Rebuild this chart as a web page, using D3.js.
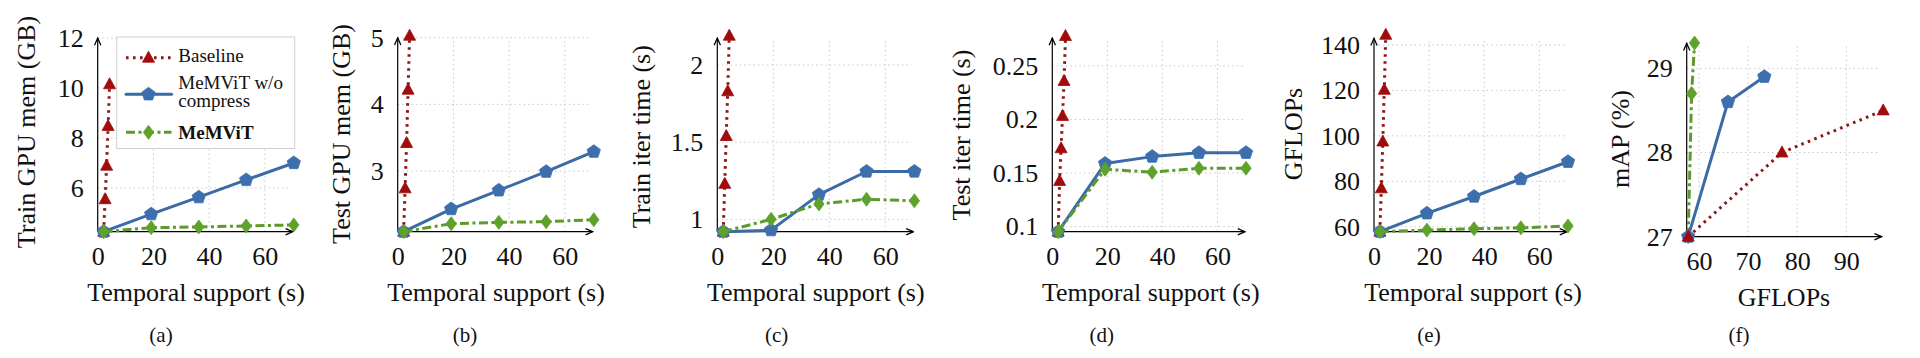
<!DOCTYPE html>
<html>
<head>
<meta charset="utf-8">
<script src="https://cdn.jsdelivr.net/npm/d3@7"></script>
<style>
body { margin: 0; background: #fff; }
svg text { font-family: "Liberation Serif", "Times New Roman", serif; fill: #111; }
</style>
</head>
<body>
<svg id="chart" width="1920" height="358"></svg>
<script>
// temporal support (s) of each run
const tsBaseline = [2.13, 2.67, 3.2, 3.73, 4.27];
const tsBaselineD = [2.13, 2.67, 3.2, 3.73, 4.27, 4.8];
const tsMemvit = [2.13, 19.2, 36.3, 53.3, 70.4];
const tsTicks = [0, 20, 40, 60];

// (a) train GPU memory (GB)
const trainMemBaseline = [4.25, 5.55, 6.89, 8.48, 10.15];
const trainMemNoCompress = [4.25, 4.95, 5.63, 6.32, 7.0];
const trainMemMemvit = [4.25, 4.41, 4.44, 4.48, 4.52];
const trainMemTicks = [6, 8, 10, 12];

// (b) test GPU memory (GB)
const testMemBaseline = [2.09, 2.74, 3.42, 4.22, 5.03];
const testMemNoCompress = [2.09, 2.43, 2.71, 2.99, 3.29];
const testMemMemvit = [2.09, 2.21, 2.23, 2.24, 2.27];
const testMemTicks = [3, 4, 5];

// (c) train iter time (s)
const trainIterBaseline = [0.92, 1.23, 1.54, 1.83, 2.19];
const trainIterNoCompress = [0.92, 0.93, 1.16, 1.31, 1.31];
const trainIterMemvit = [0.92, 1.0, 1.1, 1.13, 1.12];
const trainIterTicks = [1, 1.5, 2];

// (d) test iter time (s)
const testIterBaseline = [0.0953, 0.1427, 0.1732, 0.2034, 0.236, 0.278];
const testIterNoCompress = [0.0953, 0.159, 0.1654, 0.169, 0.169];
const testIterMemvit = [0.0953, 0.1536, 0.1508, 0.1545, 0.1545];
const testIterTicks = [0.1, 0.15, 0.2, 0.25];

// (e) GFLOPs
const flopsBaseline = [57.8, 76.9, 97.5, 120.3, 144.5];
const flopsNoCompress = [57.8, 65.9, 73.3, 81.0, 88.6];
const flopsMemvit = [57.8, 58.5, 59.1, 59.5, 60.3];
const flopsTicks = [60, 80, 100, 120, 140];

// (f) mAP vs GFLOPs
const mapFlopsBaseline = [57.8, 76.9, 97.5];
const mapBaseline = [27.0, 28.0, 28.5];
const mapFlopsNoCompress = [57.8, 65.9, 73.3];
const mapNoCompress = [27.0, 28.6, 28.9];
const mapFlopsMemvit = [57.8, 58.5, 59.1];
const mapMemvit = [27.0, 28.7, 29.3];
const mapTicks = [27, 28, 29];
const mapFlopsTicks = [60, 70, 80, 90];

const seriesNames = ["Baseline", "MeMViT w/o compress", "MeMViT"];

const zip = (xs, ys) => xs.map((x, i) => ({ x: x, y: ys[i] }));

const styles = {
    baseline: { line: "#8a1616", fill: "#a00c0c", dash: "2.6,4.4", width: 3, cap: "butt", marker: "triangle" },
    nocomp:   { line: "#3b6ba5", fill: "#3d6fae", dash: null, width: 3, cap: "round", marker: "pentagon" },
    memvit:   { line: "#5c9a2c", fill: "#5ea12b", dash: "9,3.5,3,3.5", width: 3, cap: "butt", marker: "diamond" }
};

const panels = [
    { x0: 97.7, x1: 293.8, y0: 231.7, y1: 38, arrowTop: 38, xDom: [0, 70.4], yDom: [4.25, 12],
      xTicks: tsTicks, yTicks: trainMemTicks, yLabel: "Train GPU mem (GB)", ylx: 26.7, yly: 132,
      xLabel: "Temporal support (s)", xlx: 196, xly: 292, caption: "(a)", capX: 161, legend: true,
      series: [["baseline", zip(tsBaseline, trainMemBaseline)], ["nocomp", zip(tsMemvit, trainMemNoCompress)], ["memvit", zip(tsMemvit, trainMemMemvit)]] },
    { x0: 397.7, x1: 593.8, y0: 231.7, y1: 35.7, arrowTop: 37.7, xDom: [0, 70.4], yDom: [2.09, 5.03],
      xTicks: tsTicks, yTicks: testMemTicks, yLabel: "Test GPU mem (GB)", ylx: 341.7, yly: 134,
      xLabel: "Temporal support (s)", xlx: 496, xly: 292, caption: "(b)", capX: 465,
      series: [["baseline", zip(tsBaseline, testMemBaseline)], ["nocomp", zip(tsMemvit, testMemNoCompress)], ["memvit", zip(tsMemvit, testMemMemvit)]] },
    { x0: 717.3, x1: 914.4, y0: 231.7, y1: 35.7, arrowTop: 38, xDom: [0, 70.4], yDom: [0.92, 2.19],
      xTicks: tsTicks, yTicks: trainIterTicks, yLabel: "Train iter time (s)", ylx: 641.7, yly: 136.7,
      xLabel: "Temporal support (s)", xlx: 815.8, xly: 292, caption: "(c)", capX: 776.7,
      series: [["baseline", zip(tsBaseline, trainIterBaseline)], ["nocomp", zip(tsMemvit, trainIterNoCompress)], ["memvit", zip(tsMemvit, trainIterMemvit)]] },
    { x0: 1052.3, x1: 1246, y0: 231.7, y1: 36, arrowTop: 38, xDom: [0, 70.4], yDom: [0.0953, 0.278],
      xTicks: tsTicks, yTicks: testIterTicks, yLabel: "Test iter time (s)", ylx: 961.7, yly: 135,
      xLabel: "Temporal support (s)", xlx: 1150.8, xly: 292, caption: "(d)", capX: 1101.7,
      series: [["baseline", zip(tsBaselineD, testIterBaseline)], ["nocomp", zip(tsMemvit, testIterNoCompress)], ["memvit", zip(tsMemvit, testIterMemvit)]] },
    { x0: 1374, x1: 1568, y0: 231.7, y1: 34.8, arrowTop: 38.3, xDom: [0, 70.4], yDom: [57.8, 144.5],
      xTicks: tsTicks, yTicks: flopsTicks, yLabel: "GFLOPs", ylx: 1293.3, yly: 134,
      xLabel: "Temporal support (s)", xlx: 1473, xly: 292, caption: "(e)", capX: 1429,
      series: [["baseline", zip(tsBaseline, flopsBaseline)], ["nocomp", zip(tsMemvit, flopsNoCompress)], ["memvit", zip(tsMemvit, flopsMemvit)]] },
    { x0: 1686.7, x1: 1882.7, y0: 236.7, y1: 42.2, arrowTop: 43.3, xDom: [57.5, 97.4], yDom: [27, 29.31],
      xTicks: mapFlopsTicks, yTicks: mapTicks, yLabel: "mAP (%)", ylx: 1620, yly: 139,
      xLabel: "GFLOPs", xlx: 1784, xly: 297, caption: "(f)", capX: 1739,
      series: [["memvit", zip(mapFlopsMemvit, mapMemvit)], ["nocomp", zip(mapFlopsNoCompress, mapNoCompress)], ["baseline", zip(mapFlopsBaseline, mapBaseline)]] }
];

const markerPath = (type) => {
    if (type === "triangle") {
        return "M0,-6.5L6,4.5L-6,4.5Z";
    }
    if (type === "diamond") {
        return "M0,-7L5.2,0L0,7L-5.2,0Z";
    }
    const r = 7;
    const pts = d3.range(5).map(k => {
        const a = -Math.PI / 2 + k * 2 * Math.PI / 5;
        return [r * Math.cos(a), r * Math.sin(a)];
    });
    return "M" + pts.map(p => p[0].toFixed(2) + "," + p[1].toFixed(2)).join("L") + "Z";
};

const svg = d3.select("#chart");

const defs = svg.append("defs");
defs.append("marker")
    .attr("id", "arrow")
    .attr("viewBox", "0 0 10 10")
    .attr("refX", 9)
    .attr("refY", 5)
    .attr("markerWidth", 9)
    .attr("markerHeight", 9)
    .attr("markerUnits", "userSpaceOnUse")
    .attr("orient", "auto")
    .append("path")
    .attr("d", "M1,1.5L9,5L1,8.5")
    .attr("fill", "none")
    .attr("stroke", "#000")
    .attr("stroke-width", 1.4);

panels.forEach(p => {
    const xScale = d3.scaleLinear().domain(p.xDom).range([p.x0, p.x1]);
    const yScale = d3.scaleLinear().domain(p.yDom).range([p.y0, p.y1]);
    const g = svg.append("g");

    // dotted grid
    const grid = g.append("g")
        .attr("stroke", "#c9c9c9")
        .attr("stroke-width", 1)
        .attr("stroke-dasharray", "1.5,3");
    grid.selectAll(".gx")
        .data(p.xTicks.filter(t => xScale(t) > p.x0 + 2))
        .enter()
        .append("line")
        .attr("x1", d => xScale(d)).attr("x2", d => xScale(d))
        .attr("y1", p.y0).attr("y2", p.arrowTop);
    grid.selectAll(".gy")
        .data(p.yTicks.filter(t => yScale(t) < p.y0 - 2))
        .enter()
        .append("line")
        .attr("x1", p.x0).attr("x2", p.x1 - 3)
        .attr("y1", d => yScale(d)).attr("y2", d => yScale(d));

    // axes with arrow heads
    g.append("line")
        .attr("x1", p.x0).attr("y1", p.y0)
        .attr("x2", p.x0).attr("y2", p.arrowTop)
        .attr("stroke", "#000").attr("stroke-width", 1.2)
        .attr("marker-end", "url(#arrow)");
    g.append("line")
        .attr("x1", p.x0).attr("y1", p.y0)
        .attr("x2", p.x1 - 1).attr("y2", p.y0)
        .attr("stroke", "#000").attr("stroke-width", 1.2)
        .attr("marker-end", "url(#arrow)");

    g.append("g")
        .attr("transform", "translate(" + p.x0 + ",0)")
        .call(d3.axisLeft(yScale).tickValues(p.yTicks).tickSize(0).tickPadding(14).tickFormat(d => String(d)))
        .call(a => {
            a.select(".domain").remove();
            a.selectAll("text").attr("font-size", 26).attr("font-family", null).attr("fill", "#111");
        });
    g.append("g")
        .attr("transform", "translate(0," + p.y0 + ")")
        .call(d3.axisBottom(xScale).tickValues(p.xTicks).tickSize(0).tickPadding(15).tickFormat(d => String(d)))
        .call(a => {
            a.select(".domain").remove();
            a.selectAll("text").attr("font-size", 26).attr("font-family", null).attr("fill", "#111");
        });

    // labels
    g.append("text")
        .attr("transform", "translate(" + p.ylx + "," + p.yly + ") rotate(-90)")
        .attr("text-anchor", "middle")
        .attr("dominant-baseline", "central")
        .attr("font-size", 26)
        .text(p.yLabel);
    g.append("text")
        .attr("x", p.xlx).attr("y", p.xly)
        .attr("text-anchor", "middle")
        .attr("dominant-baseline", "central")
        .attr("font-size", 26)
        .text(p.xLabel);
    g.append("text")
        .attr("x", p.capX).attr("y", 335)
        .attr("text-anchor", "middle")
        .attr("dominant-baseline", "central")
        .attr("font-size", 21)
        .text(p.caption);

    // series
    const line = d3.line().x(d => xScale(d.x)).y(d => yScale(d.y));
    p.series.forEach(([key, data]) => {
        const st = styles[key];
        g.append("path")
            .datum(data)
            .attr("fill", "none")
            .attr("stroke", st.line)
            .attr("stroke-width", st.width)
            .attr("stroke-linecap", st.cap)
            .attr("stroke-linejoin", "round")
            .attr("stroke-dasharray", st.dash)
            .attr("d", line);
        g.selectAll(".m-" + key)
            .data(data)
            .enter()
            .append("path")
            .attr("transform", d => "translate(" + xScale(d.x) + "," + yScale(d.y) + ")")
            .attr("d", markerPath(st.marker))
            .attr("fill", st.fill)
            .attr("stroke", st.fill)
            .attr("stroke-width", 0.8)
            .attr("stroke-linejoin", "round");
    });

    if (p.legend) {
        const lg = g.append("g");
        lg.append("rect")
            .attr("x", 116.7).attr("y", 37)
            .attr("width", 178).attr("height", 111.5)
            .attr("fill", "#fff")
            .attr("stroke", "#cfcfcf")
            .attr("stroke-width", 1);
        const rows = [
            { key: "baseline", ly: 57.7, lines: [[seriesNames[0], 61.5]], bold: false },
            { key: "nocomp", ly: 94.3, lines: [["MeMViT w/o", 89]], bold: false },
            { key: "memvit", ly: 132.3, lines: [[seriesNames[2], 138.5]], bold: true }
        ];
        rows.forEach(r => {
            const st = styles[r.key];
            lg.append("line")
                .attr("x1", 126).attr("x2", 171.5)
                .attr("y1", r.ly).attr("y2", r.ly)
                .attr("stroke", st.line)
                .attr("stroke-width", st.width)
                .attr("stroke-linecap", st.cap)
                .attr("stroke-dasharray", st.dash);
            lg.append("path")
                .attr("transform", "translate(148.5," + r.ly + ")")
                .attr("d", markerPath(st.marker))
                .attr("fill", st.fill)
                .attr("stroke", st.fill)
                .attr("stroke-width", 0.8);
            r.lines.forEach(([t, by]) => {
                lg.append("text")
                    .attr("x", 178.3).attr("y", by)
                    .attr("font-size", 19)
                    .attr("font-weight", r.bold ? "bold" : null)
                    .text(t);
            });
        });
        lg.append("text")
            .attr("x", 178.3).attr("y", 107)
            .attr("font-size", 19)
            .text("compress");
    }
});
</script>
</body>
</html>
